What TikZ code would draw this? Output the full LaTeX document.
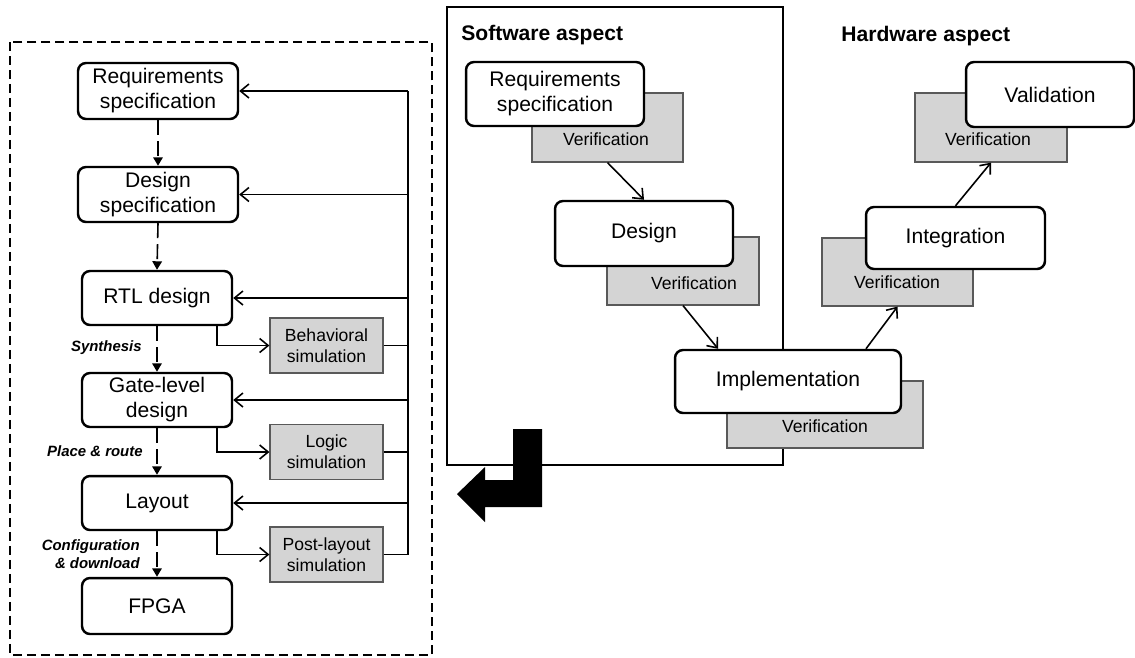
\documentclass[tikz,border=0pt]{standalone}
\usepackage{fontspec}
\setmainfont{Liberation Sans}
\usetikzlibrary{arrows.meta,positioning,calc}

\tikzset{
    stage/.style={draw, line width=1.4pt, rounded corners=0.16cm, fill=white, align=center, inner sep=0pt, font=\fontsize{12}{14.2}\selectfont},
    simbox/.style={draw=black!65, line width=0.7pt, fill=black!17, align=center, inner sep=0pt, minimum width=2.26cm, minimum height=1.1cm, font=\fontsize{10}{12}\selectfont},
    verbox/.style={draw=black!65, line width=0.7pt, fill=black!17, inner sep=0pt},
    vertext/.style={anchor=base, inner sep=0pt, font=\fontsize{10}{12}\selectfont},
    steplabel/.style={anchor=east, align=right, inner sep=0pt, font=\fontsize{8.5}{10.5}\selectfont\bfseries\itshape},
    heading/.style={anchor=base west, inner sep=0pt, font=\fontsize{12}{14}\selectfont\bfseries},
    flow/.style={line width=0.9pt, dash pattern=on 0.3cm off 0.12cm, -{Triangle[length=1.7mm,width=1.9mm]}},
    back/.style={line width=0.9pt, -{Straight Barb[length=1.7mm,width=2.8mm]}},
    plain/.style={line width=0.9pt}
}

\begin{document}
\begin{tikzpicture}[x=0.02cm, y=-0.02cm]
        \useasboundingbox (0,0) rectangle (1135,657);

        % Cornici
        \draw[line width=0.9pt, dash pattern=on 0.18cm off 0.1cm] (10,42) rectangle (432,655);
        \draw[line width=0.9pt] (447,7) rectangle (783,465);

        % Flusso FPGA
        \node[stage, minimum width=3.2cm, minimum height=1.12cm] (reqL) at (158,91) {Requirements\\specification};
        \node[stage, minimum width=3.2cm, minimum height=1.1cm] (desL) at (158,194.5) {Design\\specification};
        \node[stage, minimum width=3cm, minimum height=1.08cm] (rtl) at (157,298) {RTL design};
        \node[stage, minimum width=3cm, minimum height=1.08cm] (gate) at (157,400) {Gate-level\\design};
        \node[stage, minimum width=3cm, minimum height=1.08cm] (layout) at (157,503) {Layout};
        \node[stage, minimum width=3cm, minimum height=1.12cm] (fpga) at (157,606) {FPGA};

        % Simulazioni
        \node[simbox] (behav) at (326.5,345.5) {Behavioral\\simulation};
        \node[simbox] (logic) at (326.5,452) {Logic\\simulation};
        \node[simbox] (postl) at (326.5,554.5) {Post-layout\\simulation};

        % Passi
        \draw[flow] (reqL.south) -- (desL.north);
        \draw[flow] (desL.south) -- (rtl.north);
        \draw[flow] (rtl.south) -- (gate.north);
        \draw[flow] (gate.south) -- (layout.north);
        \draw[flow] (layout.south) -- (fpga.north);
        \node[steplabel] (synth) at (142,348) {Synthesis};
        \node[steplabel] (place) at (143,451) {Place \& route};
        \node[steplabel] (config) at (140,554) {Configuration\\\& download};

        % Verso le simulazioni
        \draw[back] ([xshift=-0.32cm]rtl.south east) |- (behav.west);
        \draw[back] ([xshift=-0.32cm]gate.south east) |- (logic.west);
        \draw[back] ([xshift=-0.32cm]layout.south east) |- (postl.west);

        % Ritorno
        \coordinate (fbtop) at (408,91);
        \draw[plain] (behav.east) -- (behav.east -| fbtop);
        \draw[plain] (logic.east) -- (logic.east -| fbtop);
        \draw[plain] (postl.east) -| (fbtop);
        \draw[back] (fbtop) -- (reqL.east);
        \draw[back] (desL.east -| fbtop) -- (desL.east);
        \draw[back] (rtl.east -| fbtop) -- (rtl.east);
        \draw[back] (gate.east -| fbtop) -- (gate.east);
        \draw[back] (layout.east -| fbtop) -- (layout.east);

        % Titoli
        \node[heading] (swtitle) at (461,40) {Software aspect};
        \node[heading] (hwtitle) at (841,41) {Hardware aspect};

        % Verifiche
        \node[verbox, minimum width=3.02cm, minimum height=1.38cm] (vreq) at (607.5,127.5) {};
        \node[verbox, minimum width=3.04cm, minimum height=1.36cm] (vdes) at (683,271) {};
        \node[verbox, minimum width=3.92cm, minimum height=1.34cm] (vimp) at (825,414.5) {};
        \node[verbox, minimum width=3.02cm, minimum height=1.36cm] (vint) at (897.5,272) {};
        \node[verbox, minimum width=3.04cm, minimum height=1.38cm] (vval) at (991,127.5) {};
        \node[vertext] (vreqt) at (606,145) {Verification};
        \node[vertext] (vdest) at (694,289) {Verification};
        \node[vertext] (vimpt) at (825,432) {Verification};
        \node[vertext] (vintt) at (897,288) {Verification};
        \node[vertext] (vvalt) at (988,145) {Verification};

        % Modello a V
        \node[stage, minimum width=3.56cm, minimum height=1.28cm] (reqR) at (555,94) {Requirements\\specification};
        \node[stage, minimum width=3.56cm, minimum height=1.3cm] (desR) at (644,233.5) {Design};
        \node[stage, minimum width=4.52cm, minimum height=1.26cm] (impl) at (788,381.5) {Implementation};
        \node[stage, minimum width=3.58cm, minimum height=1.24cm] (integ) at (955.5,238) {Integration};
        \node[stage, minimum width=3.36cm, minimum height=1.3cm] (valid) at (1050,94.5) {Validation};

        \draw[back] (vreq.south) -- (desR.north);
        \draw[back] (vdes.south) -- ([xshift=-1.4cm]impl.north);
        \draw[back] ([xshift=1.56cm]impl.north) -- (vint.south);
        \draw[back] (integ.north) -- (vval.south);

        % Freccia
        \fill[black] (513,429) -- (542,429) -- (542,507) -- (485,507) -- (485,522) -- (457,494) -- (485,467) -- (485,480) -- (513,480) -- cycle;

\end{tikzpicture}
\end{document}
